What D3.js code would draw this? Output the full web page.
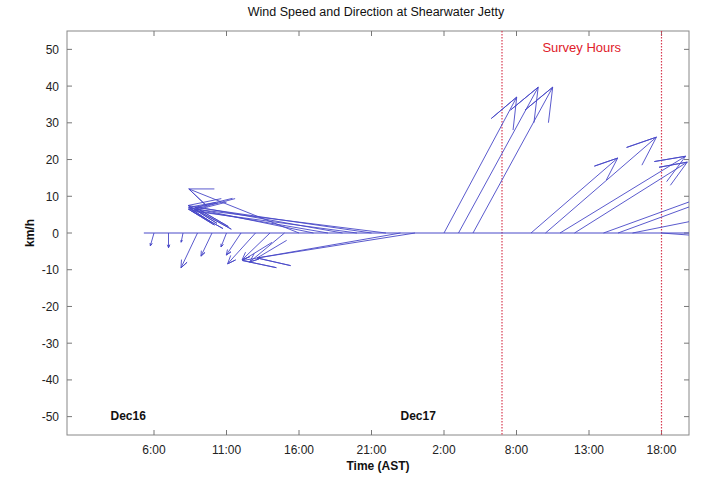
<!DOCTYPE html>
<html>
<head>
<meta charset="utf-8">
<script src="https://cdn.jsdelivr.net/npm/d3@7"></script>
<style>
  body { margin: 0; background: #fff; }
  text { font-family: "Liberation Sans", Arial, sans-serif; }
</style>
</head>
<body>
<div id="chart"></div>
<script>
// hourly records (index = hours from Dec16 00:00, one hour skipped overnight)
const positions = [6, 7, 8, 9, 10, 11, 12, 13, 14, 15, 16, 17, 18, 19, 20, 21, 22, 23, 24,
                   26, 27, 28, 32, 33, 34, 35, 37, 38, 39, 41];
// east (u) and north (v) wind components, km/h
const uComp = [-1, 0, -0.5, -4.5, -3, -1.5, -4, -7.6, -7.6, -9.5, -30, -34, -38, -42, -45, -48, -52, -43, -43,
               19.8, 21.7, 21.7, 23.6, 30.2, 34.2, 30.7, 35, 30, 25, 20];
const vComp = [-3.5, -4, -2.5, -9.5, -6.3, -3.8, -6, -8.4, -7.3, -7.9, 12, 7, 6.5, 7.5, 6, 7, 6.5, -7.5, -6.8,
               37, 39.7, 39.7, 20.4, 26.1, 20.9, 19.3, 12.7, 11, 5, -1.5];

const tickPos = [6, 11, 16, 21, 26, 31, 36, 41];
const tickLabels = ["6:00", "11:00", "16:00", "21:00", "2:00", "8:00", "13:00", "18:00"];
const yTicks = [-50, -40, -30, -20, -10, 0, 10, 20, 30, 40, 50];
const surveyLines = [30, 41];
const dayLabels = [{pos: 3.0, text: "Dec16"}, {pos: 23.0, text: "Dec17"}];
const baseStart = 5.3;

const svg = d3.select("#chart").append("svg")
    .attr("width", 702)
    .attr("height", 478);

const margin = {top: 31, right: 13, bottom: 43, left: 67},
    width = 702 - margin.left - margin.right,
    height = 478 - margin.top - margin.bottom;

const x = d3.scaleLinear().domain([0, width / 14.5]).range([0, width]);
const y = d3.scaleLinear().domain([-55, 55]).range([height, 0]);

const g = svg.append("g")
    .attr("transform", "translate(" + margin.left + "," + margin.top + ")");

g.append("clipPath").attr("id", "clip")
  .append("rect").attr("width", width).attr("height", height);

// frame
g.append("rect")
    .attr("width", width).attr("height", height)
    .attr("fill", "none").attr("stroke", "#888").attr("stroke-width", 1);

// ticks inside the box, all sides (matlab style)
const tk = 5;
g.selectAll(".xt").data(tickPos).enter().append("path")
    .attr("d", d => `M${x(d)},${height}v${-tk}M${x(d)},0v${tk}`)
    .attr("stroke", "#777");
g.selectAll(".yt").data(yTicks).enter().append("path")
    .attr("d", d => `M0,${y(d)}h${tk}M${width},${y(d)}h${-tk}`)
    .attr("stroke", "#777");

g.selectAll(".xl").data(tickPos).enter().append("text")
    .attr("x", d => x(d)).attr("y", height + 19)
    .attr("text-anchor", "middle").style("font-size", "12px").attr("fill", "#222")
    .text((d, i) => tickLabels[i]);
g.selectAll(".yl").data(yTicks).enter().append("text")
    .attr("x", -8).attr("y", d => y(d) + 4.5)
    .attr("text-anchor", "end").style("font-size", "12px").attr("fill", "#222")
    .text(d => d);

// survey hour markers
g.selectAll(".survey").data(surveyLines).enter().append("line")
    .attr("x1", d => x(d)).attr("x2", d => x(d))
    .attr("y1", 0).attr("y2", height)
    .attr("stroke", "#d83a50").attr("stroke-width", 1.2)
    .attr("stroke-dasharray", "1.5,1.5");

g.append("text")
    .attr("x", (x(surveyLines[0]) + x(surveyLines[1])) / 2)
    .attr("y", 21)
    .attr("text-anchor", "middle").style("font-size", "13px").attr("fill", "#e0202a")
    .text("Survey Hours");

// feather plot
const plot = g.append("g").attr("clip-path", "url(#clip)");
const k = y(0) - y(1); // px per km/h, same on both directions
const xx = [0, 1, 0.8, 1, 0.8];
const yy = [0, 0, 0.08, 0, -0.08];
const records = positions.map((p, i) => ({pos: p, u: uComp[i], v: vComp[i]}));

plot.append("line")
    .attr("x1", x(baseStart)).attr("x2", width + 5)
    .attr("y1", y(0)).attr("y2", y(0))
    .attr("stroke", "#4848c8").attr("stroke-width", 1);

const line = d3.line();
plot.selectAll(".arrow").data(records).enter().append("path")
    .attr("class", "arrow")
    .attr("d", d => line(xx.map((a, j) => {
        const px = a * d.u - yy[j] * d.v;
        const py = a * d.v + yy[j] * d.u;
        return [x(d.pos) + px * k, y(0) - py * k];
    })))
    .attr("fill", "none")
    .attr("stroke", "#4848c8")
    .attr("stroke-width", 1)
    .attr("stroke-opacity", 0.9);

// day labels
g.selectAll(".day").data(dayLabels).enter().append("text")
    .attr("x", d => x(d.pos)).attr("y", height - 15)
    .style("font-size", "12px").style("font-weight", "bold").attr("fill", "#111")
    .text(d => d.text);

// titles
svg.append("text")
    .attr("x", margin.left + width / 2 - 2).attr("y", 16)
    .attr("text-anchor", "middle").style("font-size", "12.5px").attr("fill", "#111")
    .text("Wind Speed and Direction at Shearwater Jetty");

svg.append("text")
    .attr("x", margin.left + width / 2).attr("y", margin.top + height + 35)
    .attr("text-anchor", "middle").style("font-size", "12px").style("font-weight", "bold")
    .attr("fill", "#111")
    .text("Time (AST)");

svg.append("text")
    .attr("transform", "rotate(-90)")
    .attr("x", -(margin.top + y(0))).attr("y", 34)
    .attr("text-anchor", "middle").style("font-size", "12px").style("font-weight", "bold")
    .attr("fill", "#111")
    .text("km/h");
</script>
</body>
</html>
